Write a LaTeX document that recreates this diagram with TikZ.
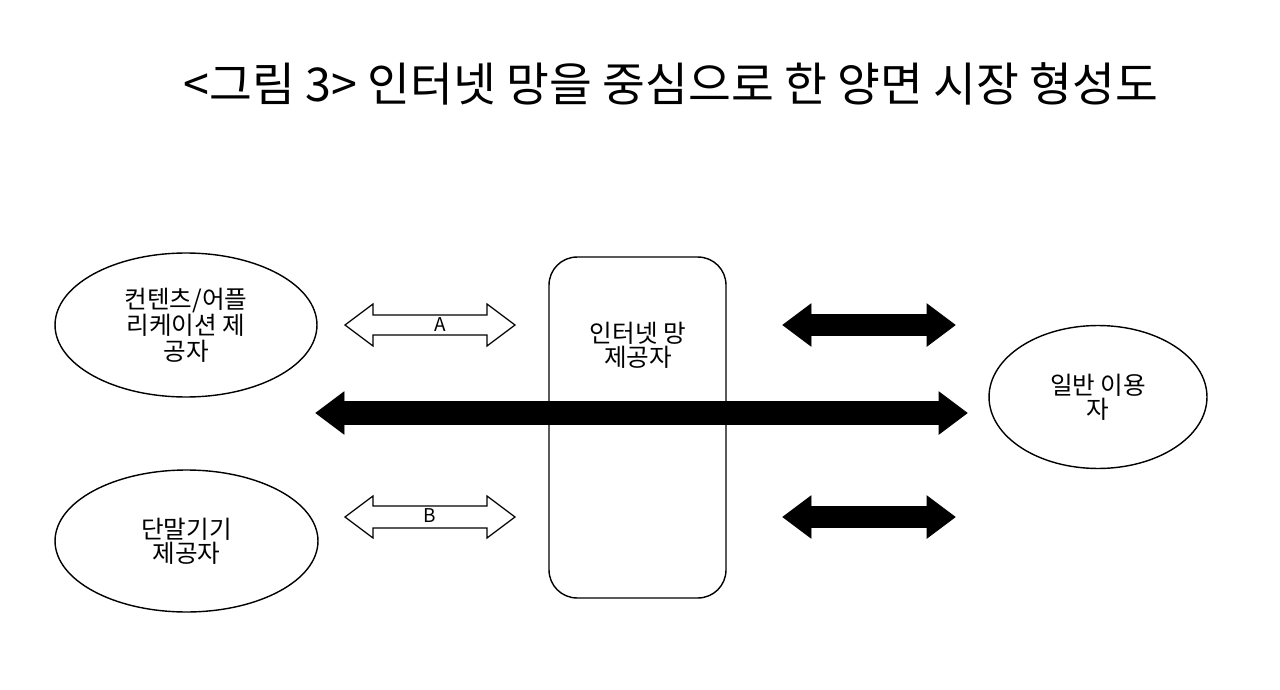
\documentclass[tikz,border=0pt]{standalone}
\usepackage{fontspec}
\setmainfont{Noto Sans CJK KR}
\usetikzlibrary{shapes.geometric,calc}

\begin{document}
\begin{tikzpicture}[line width=0.8pt, x=0.02cm, y=-0.02cm]
\tikzset{party/.style={ellipse,draw,inner sep=0pt,align=center,
    font=\fontsize{14pt}{12.5pt}\selectfont},
  label/.style={font=\fontsize{10.8pt}{12pt}\selectfont},
  hollow/.style={draw,fill=white,line width=0.7pt},
  heavy/.style={draw,fill=black,line width=0.5pt}}
\useasboundingbox (0,0) rectangle (1280,689);
% ---------- title ----------
\node (title) at (671,84) {\fontsize{26.5pt}{30pt}\selectfont <그림 3> 인터넷 망을 중심으로 한 양면 시장 형성도};
% ---------- network provider in the middle ----------
\node[draw,rounded corners=0.56cm,minimum width=3.54cm,minimum height=6.82cm,inner sep=0pt] (isp) at (637.5,427.5) {};
\node[align=center,font=\fontsize{14pt}{12.5pt}\selectfont] (ispl) at (638,345) {인터넷 망\\제공자};
% ---------- the two sides ----------
\node[party,minimum width=5.24cm,minimum height=2.88cm,font=\fontsize{14pt}{14.8pt}\selectfont] (cap) at (186,325) {컨텐츠/어플\\리케이션 제\\공자};
\node[party,minimum width=5.26cm,minimum height=2.84cm] (dev) at (186.5,541) {단말기기\\제공자};
\node[party,minimum width=4.36cm,minimum height=2.86cm] (user) at (1098,397) {일반 이용\\자};
% ---------- block arrows: #1 style, #2 left tip, #3 right tip, #4 half shaft ----------
\newcommand\dblarrow[4]{\draw[#1] (#2) -- ++(28,-21) -- ++(0,{21-#4}) -- ($(#3)+(-28,-#4)$) -- ++(0,{#4-21}) -- (#3)
  -- ++(-28,21) -- ++(0,{#4-21}) -- ($(#2)+(28,#4)$) -- ++(0,{21-#4}) -- cycle;}
\coordinate (aL) at (345,325); \coordinate (aR) at (515,325);
\coordinate (bL) at (345,517); \coordinate (bR) at (515,517);
\coordinate (uL) at (783,325); \coordinate (uR) at (955,325);
\coordinate (dL) at (783,517); \coordinate (dR) at (955,517);
\coordinate (mL) at (316,413); \coordinate (mR) at (967,413);
\dblarrow{hollow}{aL}{aR}{10}
\dblarrow{hollow}{bL}{bR}{11}
\dblarrow{heavy}{uL}{uR}{10.5}
\dblarrow{heavy}{dL}{dR}{10.5}
\dblarrow{heavy}{mL}{mR}{11.5}
\node[label] (alab) at (440,325) {A};
\node[label] (blab) at (430,516) {B};
\end{tikzpicture}
\end{document}
